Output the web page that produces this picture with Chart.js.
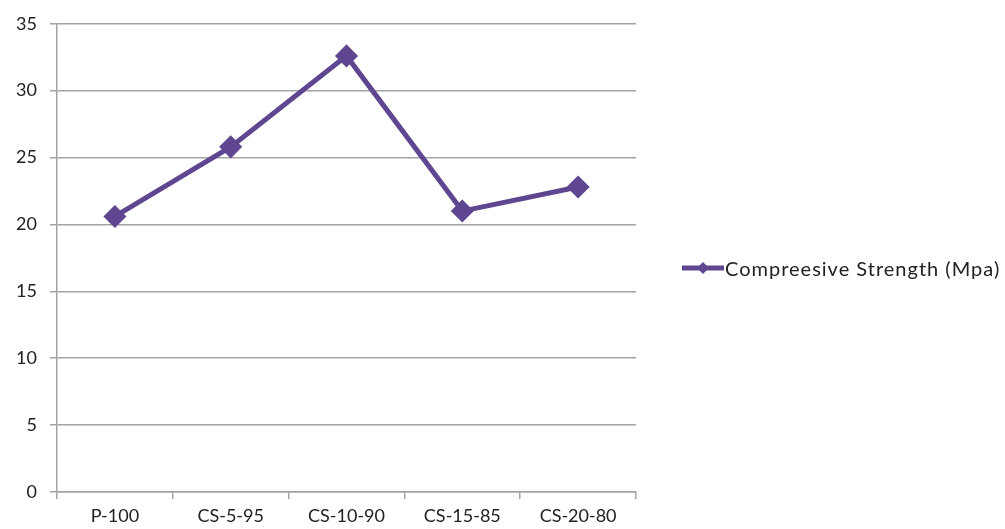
<!DOCTYPE html>
<html>
<head>
<meta charset="utf-8">
<script src="https://cdn.jsdelivr.net/npm/chart.js@4"></script>
<style>
  html, body { margin: 0; padding: 0; background: #fff; }
  #wrap { position: relative; width: 1005px; height: 529px; }
  #legend { position: absolute; left: 682px; top: 256px; display: flex; align-items: center;
    font-family: Lato, "Open Sans", sans-serif; font-size: 20px; color: #222; white-space: nowrap; letter-spacing: 1px; }
  #legend canvas { margin-right: 1px; }
</style>
</head>
<body>
<div id="wrap">
  <canvas id="chart" width="1005" height="529"></canvas>
  <div id="legend"><canvas id="legendMark" width="42" height="20"></canvas><span id="legendText"></span></div>
</div>
<script>
const categories = ["P-100", "CS-5-95", "CS-10-90", "CS-15-85", "CS-20-80"];
const strength = [20.6, 25.8, 32.6, 21.0, 22.8];
const seriesName = "Compreesive Strength (Mpa)";
const yTicks = [0, 5, 10, 15, 20, 25, 30, 35];

const purple = "#5e4690";
const gridGray = "#a3a3a3";

new Chart(document.getElementById("chart"), {
  type: "line",
  data: {
    labels: categories,
    datasets: [{
      label: seriesName,
      data: strength,
      borderColor: purple,
      backgroundColor: purple,
      borderWidth: 5,
      pointStyle: "rectRot",
      pointRadius: 8,
      pointHoverRadius: 8,
      tension: 0
    }]
  },
  options: {
    responsive: false,
    animation: false,
    layout: { padding: { top: 20, right: 369, left: 0, bottom: 0 } },
    plugins: { legend: { display: false }, tooltip: { enabled: false } },
    scales: {
      x: {
        offset: true,
        grid: { offset: true, drawOnChartArea: false, drawTicks: true, tickLength: 7, color: gridGray, lineWidth: 1.5 },
        border: { color: gridGray, width: 1.5 },
        ticks: { color: "#222", font: { family: "Lato", size: 18 }, padding: 6 },
        afterFit: s => { s.height = 37; }
      },
      y: {
        min: 0,
        max: 35,
        afterBuildTicks: s => { s.ticks = yTicks.map(v => ({ value: v })); },
        grid: { color: gridGray, lineWidth: 1.5, tickLength: 7 },
        border: { color: gridGray, width: 1.5 },
        ticks: { color: "#222", font: { family: "Lato", size: 18 }, padding: 13 },
        afterFit: s => { s.width = 57; }
      }
    }
  }
});

document.getElementById("legendText").textContent = seriesName;
const m = document.getElementById("legendMark").getContext("2d");
m.strokeStyle = purple;
m.lineWidth = 5;
m.beginPath(); m.moveTo(0, 10); m.lineTo(42, 10); m.stroke();
m.fillStyle = purple;
m.beginPath(); m.moveTo(21, 4); m.lineTo(27, 10); m.lineTo(21, 16); m.lineTo(15, 10); m.closePath(); m.fill();
</script>
</body>
</html>
